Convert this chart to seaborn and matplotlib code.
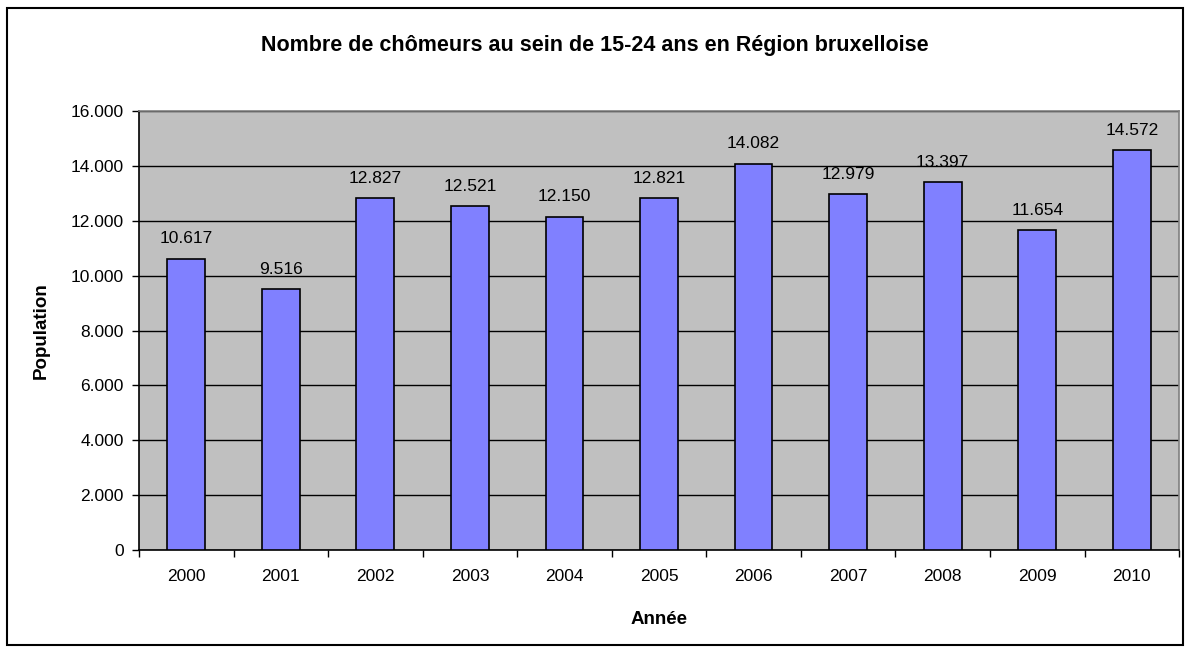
import pandas as pd
import matplotlib.pyplot as plt
import seaborn as sns
from matplotlib.patches import Rectangle

# Data
years = ['2000', '2001', '2002', '2003', '2004', '2005', '2006', '2007', '2008', '2009', '2010']
chomeurs = [10617, 9516, 12827, 12521, 12150, 12821, 14082, 12979, 13397, 11654, 14572]
labels = ['10.617', '9.516', '12.827', '12.521', '12.150', '12.821', '14.082', '12.979', '13.397', '11.654', '14.572']
yticks = [0, 2000, 4000, 6000, 8000, 10000, 12000, 14000, 16000]
ytick_labels = ['0', '2.000', '4.000', '6.000', '8.000', '10.000', '12.000', '14.000', '16.000']

df = pd.DataFrame({'annee': years, 'population': chomeurs})

sns.set_style('white')
plt.rcParams['font.family'] = ['Liberation Sans', 'DejaVu Sans']
plt.rcParams['text.color'] = 'black'
plt.rcParams['axes.labelcolor'] = 'black'
plt.rcParams['xtick.color'] = 'black'
plt.rcParams['ytick.color'] = 'black'

fs = 12.5

fig = plt.figure(figsize=(11.9, 6.53), dpi=100)
fig.patches.append(Rectangle((0.006, 0.012), 0.988, 0.976, transform=fig.transFigure,
                             fill=False, edgecolor='black', linewidth=1.5))
ax = fig.add_axes([0.1168, 0.1577, 0.874, 0.6723])
ax.set_facecolor('#c0c0c0')

sns.barplot(data=df, x='annee', y='population', color='#8080ff', width=0.4,
            edgecolor='black', linewidth=1.2, saturation=1, ax=ax, zorder=3)

for i, (v, lab) in enumerate(zip(chomeurs, labels)):
    ax.text(i, v + 450, lab, ha='center', va='bottom', fontsize=fs, zorder=4)

ax.set_ylim(0, 16000)
ax.set_xlim(-0.5, len(years) - 0.5)
ax.set_yticks(yticks)
ax.set_yticklabels(ytick_labels, fontsize=fs)
ax.yaxis.grid(True, color='black', linewidth=1)
ax.set_axisbelow(True)
for t in ax.get_xticklabels():
    t.set_fontsize(fs)
ax.tick_params(axis='x', length=0, pad=14)
ax.tick_params(axis='y', left=True, length=5, width=1, color='black', direction='out', pad=6)
# x tick marks between categories
ax.set_xticks([i - 0.5 for i in range(len(years) + 1)], minor=True)
ax.tick_params(axis='x', which='minor', bottom=True, length=5, width=1, color='black', direction='out')

ax.spines['left'].set_color('black')
ax.spines['bottom'].set_color('black')
ax.spines['top'].set_color('#808080')
ax.spines['right'].set_color('#808080')
for s in ax.spines.values():
    s.set_visible(True)
    s.set_linewidth(1.2)

ax.set_xlabel('Année', fontsize=13.5, fontweight='bold', labelpad=19)
ax.set_ylabel('Population', fontsize=13.5, fontweight='bold', labelpad=15)
fig.text(0.5, 0.931, 'Nombre de chômeurs au sein de 15-24 ans en Région bruxelloise',
         ha='center', va='center', fontsize=15.5, fontweight='bold')

fig.savefig('out.png', dpi=100)
